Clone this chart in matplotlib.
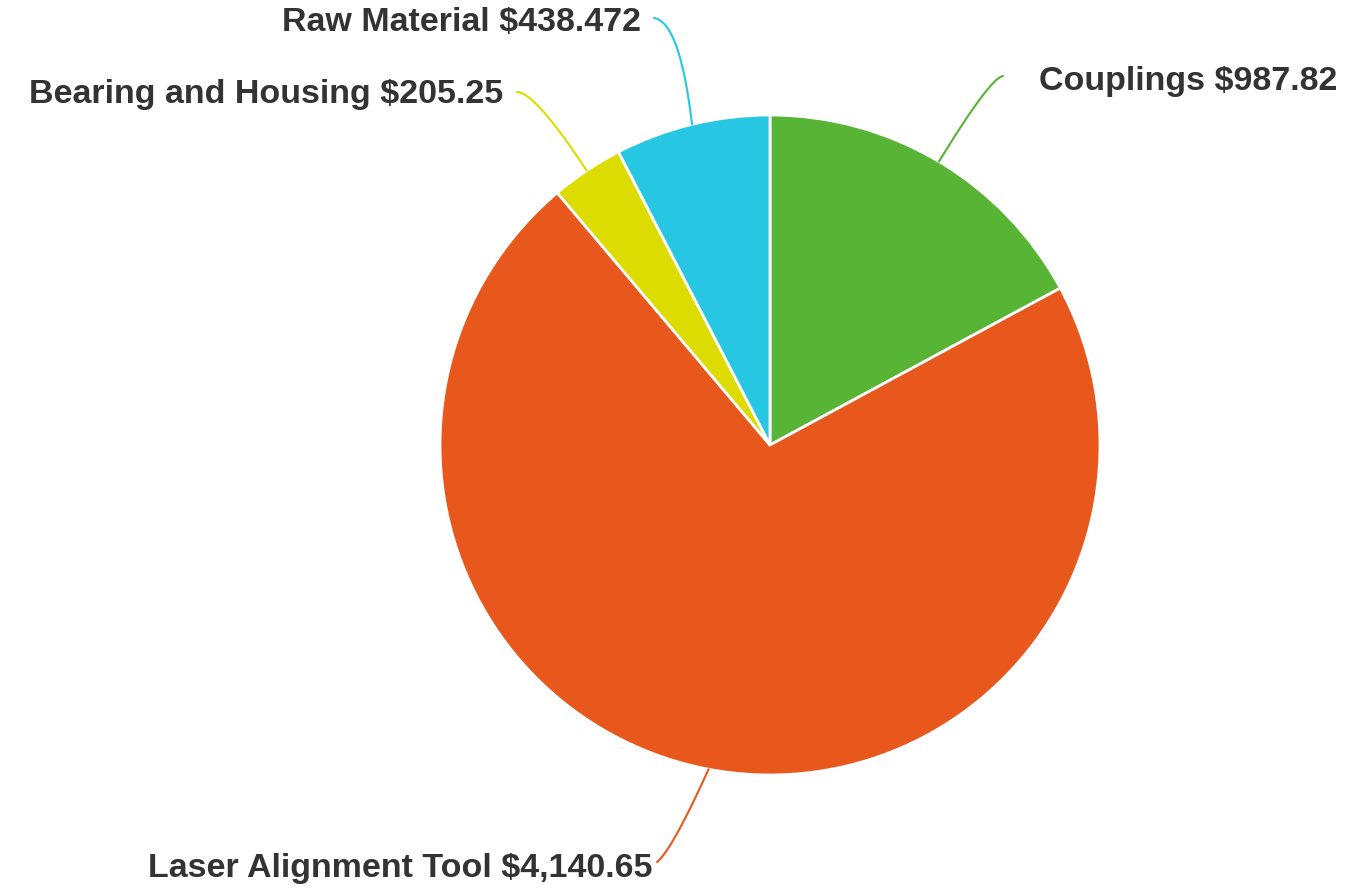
import numpy as np
import matplotlib.pyplot as plt

# Datos de la gráfica
labels = ["Couplings", "Laser Alignment Tool", "Bearing and Housing", "Raw Material"]
values = [987.82, 4140.65, 205.25, 438.472]
value_text = ["$987.82", "$4,140.65", "$205.25", "$438.472"]
colors = ["#57b434", "#e8571c", "#dcdc00", "#27c6e3"]

# Posicion de las etiquetas (en pixeles de la imagen) y alineacion
label_pos = [(1039, 82), (652, 869), (503, 95), (641, 22)]
label_ha = ["left", "right", "right", "right"]
line_end = [(1003, 76), (657, 862), (517, 92), (654, 18)]
line_ctrl = [(990, 78), (672, 850), (535, 92), (680, 22)]

W, H = 1349, 894
cx, cy, R = 770, 445, 330


def to_data(p):
    return ((p[0] - cx) / R, (cy - p[1]) / R)


fig = plt.figure(figsize=(W / 100, H / 100), dpi=100)
ax = fig.add_axes([0, 0, 1, 1])

wedges, _ = ax.pie(values, colors=colors, startangle=90, counterclock=False,
                   radius=1.0, wedgeprops=dict(edgecolor="white", linewidth=2))

# pie() cambia los limites, se fijan despues
ax.set_xlim(-cx / R, (W - cx) / R)
ax.set_ylim(-(H - cy) / R, cy / R)
ax.set_aspect("equal")
ax.axis("off")

# Lineas guia curvas y etiquetas
for w, lab, vt, pos, ha, end, ctrl, col in zip(wedges, labels, value_text, label_pos,
                                               label_ha, line_end, line_ctrl, colors):
    ang = np.deg2rad((w.theta1 + w.theta2) / 2)
    p0 = np.array([np.cos(ang), np.sin(ang)])
    p1 = np.array(to_data(ctrl))
    p2 = np.array(to_data(end))
    t = np.linspace(0, 1, 60)[:, None]
    curve = (1 - t) ** 2 * p0 + 2 * (1 - t) * t * p1 + t ** 2 * p2
    ax.plot(curve[:, 0], curve[:, 1], color=col, lw=1.5, solid_capstyle="round")
    tx, ty = to_data(pos)
    ax.text(tx, ty, f"{lab} {vt}", ha=ha, va="center", fontsize=24.5,
            fontweight="bold", color="#333333", family="Liberation Sans")

fig.savefig("out.png", dpi=100, facecolor="white")
